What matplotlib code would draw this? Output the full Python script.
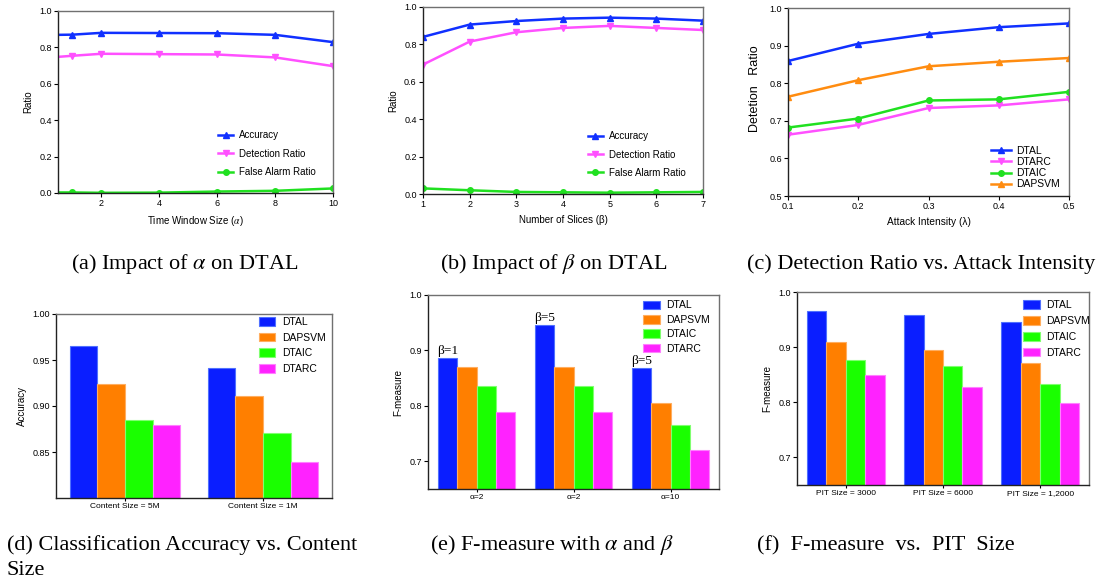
import matplotlib
matplotlib.use("Agg")
import matplotlib.pyplot as plt
import numpy as np

plt.rcParams['font.family'] = ['Liberation Sans', 'DejaVu Sans']
plt.rcParams['mathtext.fontset'] = 'stix'

# ---------------- data ----------------
# (a) impact of alpha
a_x = [0.5, 1, 2, 4, 6, 8, 10]
a_acc = [0.869, 0.870, 0.880, 0.879, 0.878, 0.869, 0.829]
a_det = [0.748, 0.754, 0.765, 0.763, 0.761, 0.745, 0.697]
a_far = [0.003, 0.003, 0.001, 0.002, 0.008, 0.012, 0.025]
a_ticks = [2, 4, 6, 8, 10]

# (b) impact of beta
b_x = [1, 2, 3, 4, 5, 6, 7]
b_acc = [0.840, 0.906, 0.925, 0.938, 0.943, 0.938, 0.927]
b_det = [0.692, 0.815, 0.865, 0.888, 0.899, 0.888, 0.877]
b_far = [0.030, 0.020, 0.011, 0.009, 0.007, 0.009, 0.011]

# (c) detection ratio vs attack intensity
c_x = [0.1, 0.2, 0.3, 0.4, 0.5]
c_dtal = [0.859, 0.905, 0.931, 0.949, 0.959]
c_dtarc = [0.663, 0.689, 0.734, 0.741, 0.757]
c_dtaic = [0.682, 0.706, 0.754, 0.757, 0.777]
c_dapsvm = [0.764, 0.808, 0.845, 0.857, 0.867]

methods = ['DTAL', 'DAPSVM', 'DTAIC', 'DTARC']

# (d) accuracy vs content size
d_groups = ['Content Size = 5M', 'Content Size = 1M']
d_vals = {'DTAL': [0.965, 0.941], 'DAPSVM': [0.924, 0.911],
          'DTAIC': [0.885, 0.871], 'DTARC': [0.879, 0.8395]}

# (e) F-measure with alpha and beta
e_groups = ['α=2', 'α=2', 'α=10']
e_notes = ['β=1', 'β=5', 'β=5']
e_vals = {'DTAL': [0.886, 0.945, 0.868], 'DAPSVM': [0.871, 0.871, 0.805],
          'DTAIC': [0.835, 0.835, 0.766], 'DTARC': [0.789, 0.789, 0.720]}

# (f) F-measure vs PIT size
f_groups = ['PIT Size = 3000', 'PIT Size = 6000', 'PIT Size = 1,2000']
f_vals = {'DTAL': [0.965, 0.959, 0.946], 'DAPSVM': [0.909, 0.895, 0.871],
          'DTAIC': [0.876, 0.866, 0.834], 'DTARC': [0.849, 0.828, 0.799]}

# ---------------- style ----------------
BLUE = '#1030ff'
MAG = '#ff50ff'
GREEN = '#20e020'
ORANGE = '#ff8c10'
bar_colors = {'DTAL': '#0a1eff', 'DAPSVM': '#ff7f00', 'DTAIC': '#1aff00', 'DTARC': '#ff22ff'}
bar_edges = {'DTAL': '#5070ff', 'DAPSVM': '#ffae60', 'DTAIC': '#80ff70', 'DTARC': '#ff80ff'}

W, H = 1097, 581
fig = plt.figure(figsize=(W / 100, H / 100), dpi=100)


def add_ax(l, r, t, b):
    return fig.add_axes([l / W, 1 - b / H, (r - l) / W, (b - t) / H])


def style(ax):
    for s in ['left', 'bottom']:
        ax.spines[s].set_color('#222222')
        ax.spines[s].set_linewidth(1.0)
    for s in ['top', 'right']:
        ax.spines[s].set_color('#707070')
        ax.spines[s].set_linewidth(1.0)
    ax.tick_params(labelsize=6.5, length=3, width=0.8, direction='out', pad=1.5)


LW = 1.8
MS = 4

# (a)
ax = add_ax(58, 333, 11, 193)
mk = list(range(1, len(a_x)))
ax.plot(a_x, a_acc, color=BLUE, lw=LW, marker='^', ms=MS, markevery=mk, label='Accuracy')
ax.plot(a_x, a_det, color=MAG, lw=LW, marker='v', ms=MS, markevery=mk, label='Detection Ratio')
ax.plot(a_x, a_far, color=GREEN, lw=LW, marker='o', ms=MS, markevery=mk, label='False Alarm Ratio')
ax.set_xlim(0.5, 10)
ax.set_ylim(0, 1.0)
ax.set_xticks(a_ticks)
ax.set_yticks([0, 0.2, 0.4, 0.6, 0.8, 1.0])
ax.set_yticklabels(['0.0', '0.2', '0.4', '0.6', '0.8', '1.0'])
ax.set_xlabel(r'Time Window Size ($\alpha$)', fontsize=7)
ax.set_ylabel('Ratio', fontsize=7)
style(ax)
ax.legend(loc='lower right', bbox_to_anchor=(0.97, 0.04), frameon=False, fontsize=7,
          handlelength=1.6, handletextpad=0.6, labelspacing=0.85)

# (b)
ax = add_ax(423, 703, 7, 194)
ax.plot(b_x, b_acc, color=BLUE, lw=LW, marker='^', ms=MS, label='Accuracy')
ax.plot(b_x, b_det, color=MAG, lw=LW, marker='v', ms=MS, label='Detection Ratio')
ax.plot(b_x, b_far, color=GREEN, lw=LW, marker='o', ms=MS, label='False Alarm Ratio')
ax.set_xlim(1, 7)
ax.set_ylim(0, 1.0)
ax.set_xticks(b_x)
ax.set_yticks([0, 0.2, 0.4, 0.6, 0.8, 1.0])
ax.set_yticklabels(['0.0', '0.2', '0.4', '0.6', '0.8', '1.0'])
ax.set_xlabel('Number of Slices (β)', fontsize=7)
ax.set_ylabel('Ratio', fontsize=7)
style(ax)
ax.legend(loc='lower right', bbox_to_anchor=(0.97, 0.04), frameon=False, fontsize=7,
          handlelength=1.6, handletextpad=0.6, labelspacing=0.85)

# (c)
ax = add_ax(788, 1069, 8, 196)
ax.plot(c_x, c_dtal, color=BLUE, lw=LW, marker='^', ms=MS, label='DTAL')
ax.plot(c_x, c_dtarc, color=MAG, lw=LW, marker='v', ms=MS, label='DTARC')
ax.plot(c_x, c_dtaic, color=GREEN, lw=LW, marker='o', ms=MS, label='DTAIC')
ax.plot(c_x, c_dapsvm, color=ORANGE, lw=LW, marker='^', ms=MS, label='DAPSVM')
ax.set_xlim(0.1, 0.5)
ax.set_ylim(0.5, 1.0)
ax.set_xticks(c_x)
ax.set_yticks([0.5, 0.6, 0.7, 0.8, 0.9, 1.0])
ax.set_xlabel('Attack Intensity (λ)', fontsize=7.3)
ax.set_ylabel('Detetion   Ratio', fontsize=9)
ax.yaxis.set_label_coords(-0.095, 0.57)
style(ax)
ax.legend(loc='lower right', bbox_to_anchor=(1.0, -0.015), frameon=False, fontsize=7.5,
          handlelength=1.9, handletextpad=0.5, labelspacing=0.12)


def bars(ax, groups, vals, ylim, yticks, yticklabels, ylabel, legend_anchor, lspace):
    x = np.arange(len(groups))
    w = 0.2
    for i, m in enumerate(methods):
        ax.bar(x + (i - 1.5) * w, vals[m], width=w, bottom=0, color=bar_colors[m],
               edgecolor=bar_edges[m], linewidth=0.8, label=m)
    ax.set_xlim(-0.5, len(groups) - 0.5)
    ax.set_ylim(*ylim)
    ax.set_xticks(x)
    ax.set_xticklabels(groups)
    ax.set_yticks(yticks)
    ax.set_yticklabels(yticklabels)
    ax.set_ylabel(ylabel, fontsize=7)
    style(ax)
    ax.tick_params(axis='x', length=2, labelsize=6.0)
    ax.legend(loc='upper right', bbox_to_anchor=legend_anchor, frameon=False, fontsize=7.5,
              handlelength=1.6, handleheight=0.9, handletextpad=0.6, labelspacing=lspace)
    return x, w


# (d)
ax = add_ax(56, 332, 314, 498)
bars(ax, d_groups, d_vals, (0.80, 1.00), [0.85, 0.90, 0.95, 1.00],
     ['0.85', '0.90', '0.95', '1.00'], 'Accuracy', (1.01, 1.035), 0.55)

# (e)
ax = add_ax(428, 719, 295, 489)
x, w = bars(ax, e_groups, e_vals, (0.65, 1.0), [0.7, 0.8, 0.9, 1.0],
            ['0.7', '0.8', '0.9', '1.0'], 'F-measure', (1.0, 1.02), 0.42)
for xi, note, v in zip(x, e_notes, e_vals['DTAL']):
    ax.annotate(note, (xi - 1.5 * w, v), xytext=(0, 1), textcoords='offset points',
                ha='center', va='bottom', fontsize=9.5, family='Liberation Serif')

# (f)
ax = add_ax(797, 1089, 292, 485)
bars(ax, f_groups, f_vals, (0.65, 1.0), [0.7, 0.8, 0.9, 1.0],
     ['0.7', '0.8', '0.9', '1.0'], 'F-measure', (1.035, 1.005), 0.55)

# captions
cap = dict(fontsize=16, family='Liberation Serif', ha='center', va='baseline')
fig.text(185 / W, 1 - 269 / H, r'(a) Impact of $\alpha$ on DTAL', **cap)
fig.text(554 / W, 1 - 269 / H, r'(b) Impact of $\beta$ on DTAL', **cap)
fig.text(921 / W, 1 - 269 / H, '(c) Detection Ratio vs. Attack Intensity', **cap)
fig.text(7 / W, 1 - 550 / H, '(d) Classification Accuracy vs. Content', **{**cap, 'ha': 'left'})
fig.text(7 / W, 1 - 575 / H, 'Size', **{**cap, 'ha': 'left'})
fig.text(430 / W, 1 - 550 / H, r'(e) F-measure with $\alpha$ and $\beta$', **{**cap, 'ha': 'left'})
fig.text(757 / W, 1 - 550 / H, '(f)  F-measure  vs.  PIT  Size', **{**cap, 'ha': 'left'})

fig.savefig('out.png', dpi=100)
